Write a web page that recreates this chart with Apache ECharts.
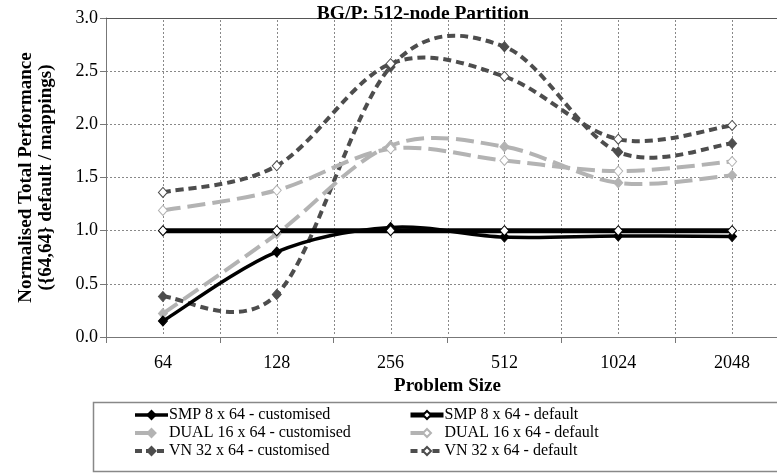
<!DOCTYPE html>
<html>
<head>
<meta charset="utf-8">
<script src="https://cdn.jsdelivr.net/npm/echarts@6/dist/echarts.min.js"></script>
<style>
html,body{margin:0;padding:0;background:#fff;}
#main{width:777px;height:474px;}
</style>
</head>
<body>
<div id="main"></div>
<script>
var categories = ['64', '128', '256', '512', '1024', '2048'];
var smpCustomised  = [0.15, 0.80, 1.03, 0.94, 0.95, 0.945];
var smpDefault     = [1.00, 1.00, 1.00, 1.00, 1.00, 1.00];
var dualCustomised = [0.22, 0.97, 1.80, 1.79, 1.45, 1.52];
var dualDefault    = [1.19, 1.38, 1.77, 1.66, 1.56, 1.65];
var vnCustomised   = [0.38, 0.40, 2.54, 2.73, 1.74, 1.82];
var vnDefault      = [1.36, 1.61, 2.57, 2.45, 1.86, 1.99];
var yTicks = [0, 0.5, 1.0, 1.5, 2.0, 2.5, 3.0];

var FONT = '"Liberation Serif", "Times New Roman", serif';
var BLACK = '#000000', LIGHT = '#b3b3b3', DARK = '#4d4d4d';
var GRIDC = '#888888';

function bezLen(a, c1, c2, b) {
  var len = 0, px = a[0], py = a[1];
  for (var k = 1; k <= 24; k++) {
    var t = k / 24, u = 1 - t;
    var x = u*u*u*a[0] + 3*u*u*t*c1[0] + 3*u*t*t*c2[0] + t*t*t*b[0];
    var y = u*u*u*a[1] + 3*u*u*t*c1[1] + 3*u*t*t*c2[1] + t*t*t*b[1];
    len += Math.sqrt((x-px)*(x-px) + (y-py)*(y-py));
    px = x; py = y;
  }
  return len;
}

// Smoothed (Catmull-Rom style) curve drawn through the axis coordinates of the data.
function curveSeries(values, color, width, dash, z) {
  return {
    type: 'custom',
    xAxisIndex: 0, yAxisIndex: 0,
    data: values.map(function (v, i) { return [i, v]; }),
    encode: {x: 0, y: 1},
    z: z, silent: true, animation: false,
    renderItem: function (params, api) {
      if (params.dataIndex !== 0) return null;
      var pts = values.map(function (v, i) { return api.coord([i, v]); });
      var children = [], offset = 0, n = pts.length;
      for (var i = 0; i < n - 1; i++) {
        var p0 = pts[Math.max(i - 1, 0)], p1 = pts[i], p2 = pts[i + 1], p3 = pts[Math.min(i + 2, n - 1)];
        var c1 = [p1[0] + (p2[0] - p0[0]) / 6, p1[1] + (p2[1] - p0[1]) / 6];
        var c2 = [p2[0] - (p3[0] - p1[0]) / 6, p2[1] - (p3[1] - p1[1]) / 6];
        var st = {stroke: color, lineWidth: width, fill: null, lineCap: 'butt', lineJoin: 'round'};
        if (dash) { st.lineDash = dash; st.lineDashOffset = offset; }
        children.push({
          type: 'bezierCurve',
          shape: {x1: p1[0], y1: p1[1], x2: p2[0], y2: p2[1], cpx1: c1[0], cpy1: c1[1], cpx2: c2[0], cpy2: c2[1]},
          style: st
        });
        offset += bezLen(p1, c1, c2, p2);
      }
      return {type: 'group', children: children};
    }
  };
}

// Dotted vertical gridlines at category centres and category boundaries (drawn as small dots).
var vGridSeries = {
  type: 'custom',
  xAxisIndex: 0, yAxisIndex: 0,
  data: categories.map(function (c, i) { return [i, yTicks[0]]; }),
  encode: {x: 0, y: 1},
  z: 1, silent: true, animation: false,
  renderItem: function (params, api) {
    var cs = params.coordSys;
    var p = api.coord([api.value(0), api.value(1)]);
    var half = api.size([1, 0])[0] / 2;
    var xs = [p[0]];
    if (params.dataIndex > 0) xs.push(p[0] - half);
    var children = [];
    xs.forEach(function (x) {
      var xx = Math.round(x);
      for (var yy = cs.y + 2; yy < cs.y + cs.height - 1; yy += 4) {
        children.push({
          type: 'rect',
          shape: {x: xx, y: Math.round(yy), width: 1, height: 2},
          style: {fill: GRIDC}
        });
      }
    });
    return {type: 'group', children: children};
  }
};

function markSeries(name, values, color, width, dash, filled) {
  return {
    name: name,
    type: 'line',
    xAxisIndex: 0, yAxisIndex: 0,
    data: values,
    symbol: 'diamond',
    symbolSize: [9, 10],
    showSymbol: true,
    z: 5,
    lineStyle: {color: color, width: width, type: dash, opacity: 0},
    itemStyle: {color: filled ? color : '#ffffff', borderColor: color, borderWidth: 1},
    emphasis: {disabled: true},
    animation: false
  };
}

function legendItem(name, color, width, dash) {
  return {name: name, lineStyle: {opacity: 1, color: color, width: width, type: dash, dashOffset: 0}};
}

var chart = echarts.init(document.getElementById('main'), null, {renderer: 'canvas'});
chart.setOption({
  backgroundColor: '#ffffff',
  animation: false,
  title: {
    text: 'BG/P: 512-node Partition',
    left: 418, top: -1, textAlign: 'center',
    textStyle: {fontFamily: FONT, fontSize: 19.5, fontWeight: 'bold', color: '#000'}
  },
  grid: {left: 106, top: 18, right: -12, bottom: 137, outerBoundsMode: 'none', containLabel: false},
  xAxis: [{
    type: 'category',
    data: categories,
    boundaryGap: true,
    name: 'Problem Size',
    nameLocation: 'middle',
    nameGap: 40,
    nameTextStyle: {fontFamily: FONT, fontSize: 19, fontWeight: 'bold', color: '#000'},
    axisLine: {lineStyle: {color: '#777', width: 1}},
    axisTick: {show: true, length: 6, inside: false, lineStyle: {color: '#777'}},
    axisLabel: {fontFamily: FONT, fontSize: 18, color: '#000', margin: 17},
    splitLine: {show: false}
  }, {
    type: 'category',
    data: categories,
    boundaryGap: true,
    position: 'top',
    axisLine: {show: true, lineStyle: {color: '#555', width: 1}},
    axisTick: {show: false}, axisLabel: {show: false},
    splitLine: {show: false}
  }],
  yAxis: {
    type: 'value',
    min: yTicks[0], max: yTicks[yTicks.length - 1], interval: 0.5,
    name: 'Normalised Total Performance\n({64,64} default / mappings)',
    nameLocation: 'middle',
    nameRotate: 90,
    nameGap: 50,
    nameTextStyle: {fontFamily: FONT, fontSize: 19, fontWeight: 'bold', color: '#000', lineHeight: 20},
    axisLine: {show: true, lineStyle: {color: '#777', width: 1}},
    axisTick: {show: true, length: 6, inside: false, lineStyle: {color: '#777'}},
    axisLabel: {fontFamily: FONT, fontSize: 18, color: '#000', margin: 8, formatter: function (v) { return v.toFixed(1); }},
    splitLine: {show: true, lineStyle: {color: GRIDC, type: [2, 2], width: 1}}
  },
  legend: [{
    orient: 'vertical', left: 128, top: 401,
    itemWidth: 33, itemHeight: 10, itemGap: 0,
    selectedMode: false,
    textStyle: {fontFamily: FONT, fontSize: 16, color: '#000', lineHeight: 18, padding: [0, 0, 0, -4]},
    data: [
      legendItem('SMP 8 x 64 - customised', BLACK, 3.5, 'solid'),
      legendItem('DUAL 16 x 64 - customised', LIGHT, 4, [13, 40]),
      legendItem('VN 32 x 64 - customised', DARK, 4, [7, 4])
    ]
  }, {
    orient: 'vertical', left: 403, top: 401,
    itemWidth: 33, itemHeight: 10, itemGap: 0,
    selectedMode: false,
    textStyle: {fontFamily: FONT, fontSize: 16, color: '#000', lineHeight: 18, padding: [0, 0, 0, -4]},
    data: [
      legendItem('SMP 8 x 64 - default', BLACK, 5, 'solid'),
      legendItem('DUAL 16 x 64 - default', LIGHT, 4, [13, 40]),
      legendItem('VN 32 x 64 - default', DARK, 4, [7, 4])
    ]
  }],
  graphic: [{
    type: 'rect',
    shape: {x: 93.5, y: 402.5, width: 720, height: 69},
    style: {fill: 'none', stroke: '#888', lineWidth: 1.5},
    silent: true, z: -1
  }],
  series: [
    vGridSeries,
    curveSeries(vnCustomised, DARK, 4, [8, 5], 2),
    curveSeries(vnDefault, DARK, 4, [8, 5], 2),
    curveSeries(dualCustomised, LIGHT, 4, [18, 7], 2),
    curveSeries(dualDefault, LIGHT, 4, [18, 7], 2),
    curveSeries(smpCustomised, BLACK, 3.5, null, 3),
    curveSeries(smpDefault, BLACK, 5, null, 3),
    markSeries('VN 32 x 64 - customised', vnCustomised, DARK, 4, [8, 5], true),
    markSeries('VN 32 x 64 - default', vnDefault, DARK, 4, [8, 5], false),
    markSeries('DUAL 16 x 64 - customised', dualCustomised, LIGHT, 4, [18, 7], true),
    markSeries('DUAL 16 x 64 - default', dualDefault, LIGHT, 4, [18, 7], false),
    markSeries('SMP 8 x 64 - customised', smpCustomised, BLACK, 3.5, 'solid', true),
    markSeries('SMP 8 x 64 - default', smpDefault, BLACK, 5, 'solid', false)
  ]
});
</script>
</body>
</html>
